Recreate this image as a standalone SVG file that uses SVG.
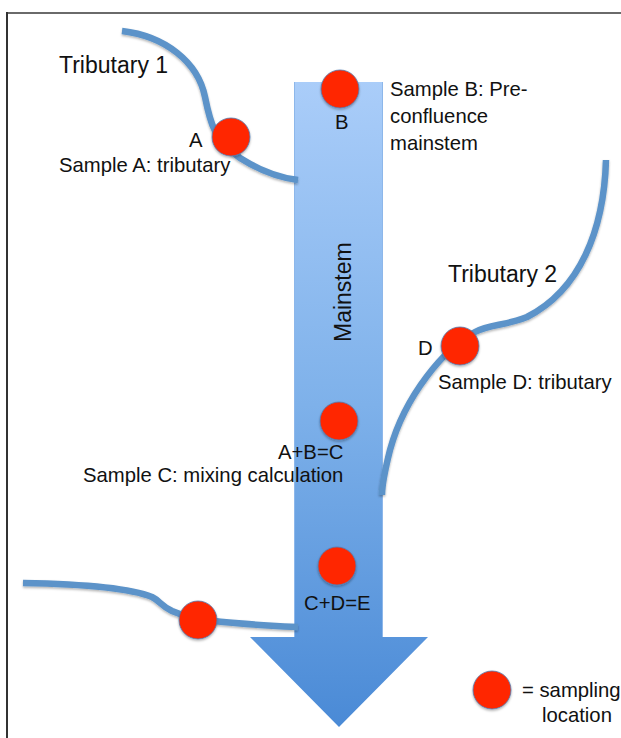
<svg xmlns="http://www.w3.org/2000/svg" width="621" height="738" viewBox="0 0 621 738">
  <defs>
    <linearGradient id="shaftGrad" x1="0" y1="82" x2="0" y2="727" gradientUnits="userSpaceOnUse">
      <stop offset="0" stop-color="#aacdf9"/>
      <stop offset="0.5" stop-color="#7eb1ea"/>
      <stop offset="1" stop-color="#4a8ad6"/>
    </linearGradient>
    <filter id="shadow" x="-30%" y="-30%" width="160%" height="170%">
      <feDropShadow dx="0" dy="1.5" stdDeviation="1.2" flood-color="#000" flood-opacity="0.3"/>
    </filter>
    <style>
      .txt { font-family: "Liberation Sans", Arial, sans-serif; fill: #111; }
      .big { font-size: 23px; }
      .lab { font-size: 20.3px; }
      .river { fill: none; stroke: #5c93c9; stroke-width: 6.5; stroke-linecap: butt; filter: url(#shadow); }
      .site { fill: #ff2600; stroke: #4f7fb8; stroke-width: 0.8; filter: url(#shadow); }
    </style>
  </defs>

  <rect x="0" y="0" width="621" height="738" fill="#ffffff"/>
  <g id="frame">
    <line x1="7" y1="13" x2="621" y2="13" stroke="#6a6a6a" stroke-width="2"/>
    <line x1="7" y1="12" x2="7" y2="738" stroke="#333333" stroke-width="2"/>
  </g>

  <g id="mainstem">
    <polygon points="294,82 383,82 383,637 428,637 339,727 250,637 294,637" fill="url(#shaftGrad)"/>
    <line x1="294.5" y1="82" x2="294.5" y2="637" stroke="#8db7ea" stroke-width="1"/>
    <line x1="382.5" y1="82" x2="382.5" y2="637" stroke="#8db7ea" stroke-width="1"/>
    <text class="txt big" transform="translate(351,342) rotate(-90)">Mainstem</text>
  </g>

  <g id="connectors">
    <path id="tributary1-line" class="river" d="M122,31 C165,36 198,62 205,97 C210,122 214,140 240,158 C262,172 282,178 298,180"/>
    <path id="tributary2-line" class="river" d="M606,160 C604,230 580,290 527,317 C505,326 490,324 475,332 C445,348 405,395 390,450 C385,470 382,485 382,495"/>
    <path id="tributary3-line" class="river" d="M23,583 C80,584 130,588 152,597 C160,601 160,605 172,611 C190,619 215,623 298,627"/>
  </g>

  <g id="tributary1">
    <text class="txt big" x="59" y="73">Tributary 1</text>
  </g>
  <g id="tributary2">
    <text class="txt big" x="448" y="282">Tributary 2</text>
  </g>

  <g id="sampleA">
    <circle class="site" cx="231" cy="137" r="19"/>
    <text class="txt lab" x="189" y="147">A</text>
    <text class="txt lab" x="59" y="172">Sample A: tributary</text>
  </g>

  <g id="sampleB">
    <circle class="site" cx="340" cy="89" r="19"/>
    <text class="txt lab" x="335" y="129">B</text>
    <text class="txt lab" x="390" y="96">Sample B: Pre-</text>
    <text class="txt lab" x="390" y="123">confluence</text>
    <text class="txt lab" x="390" y="150">mainstem</text>
  </g>

  <g id="sampleC">
    <circle class="site" cx="339" cy="421" r="19"/>
    <text class="txt lab" x="278" y="459">A+B=C</text>
    <text class="txt lab" x="83" y="482">Sample C: mixing calculation</text>
  </g>

  <g id="sampleD">
    <circle class="site" cx="460" cy="346" r="19"/>
    <text class="txt lab" x="418" y="355">D</text>
    <text class="txt lab" x="438" y="389">Sample D: tributary</text>
  </g>

  <g id="sampleE">
    <circle class="site" cx="337" cy="566" r="19"/>
    <text class="txt lab" x="304" y="610">C+D=E</text>
  </g>

  <g id="tributary3-site">
    <circle class="site" cx="198" cy="620" r="19"/>
  </g>

  <g id="legend">
    <circle class="site" cx="492" cy="690" r="19"/>
    <text class="txt lab" x="522" y="697">= sampling</text>
    <text class="txt lab" x="542" y="722">location</text>
  </g>
</svg>
